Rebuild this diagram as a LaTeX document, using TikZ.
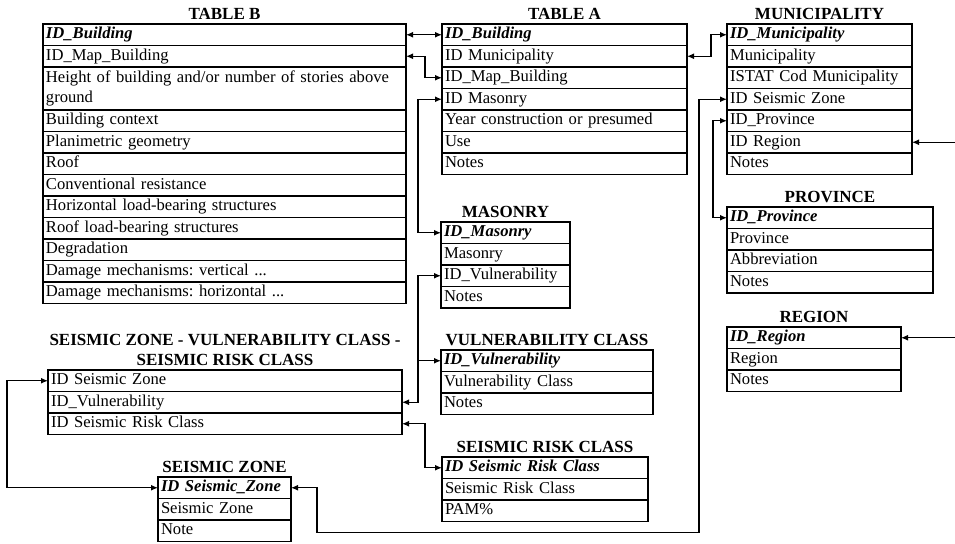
\documentclass[tikz,border=0pt]{standalone}
\usepackage{fontspec}
\setmainfont{Liberation Serif}
\usetikzlibrary{arrows.meta, positioning, calc}
\newcommand{\pk}[1]{\textbf{\textit{#1}}}
\frenchspacing

\begin{document}
\begin{tikzpicture}[x=0.5pt, y=-0.5pt, line width=0.65pt,
    >={Latex[length=3.5pt,width=3pt]},
    cellbox/.style={draw, text width=#1, align=left, minimum height=10.75pt,
      inner xsep=1.5pt, inner ysep=0pt, outer sep=0pt, font=\fontsize{8.3}{10}\selectfont},
    cell/.style={cellbox=#1, text height=6.3pt, text depth=2.1pt},
    title/.style={font=\fontsize{8.5}{10}\selectfont\bfseries, inner sep=1pt, align=center}]
  \useasboundingbox (0,0) rectangle (955,543);

  % table B
  \node[cell=178.5pt, anchor=north west] (B1) at (43,24) {\pk{ID\_Building}};
  \node[cell=178.5pt, below=0pt of B1] (B2) {ID\_Map\_Building};
  \node[cellbox=178.5pt, minimum height=21.5pt, below=0pt of B2] (B3) {Height of building and/or number of stories above\\ground};
  \foreach \n/\p/\t in {B4/B3/Building context, B5/B4/Planimetric geometry, B6/B5/Roof,
      B7/B6/Conventional resistance, B8/B7/Horizontal load-bearing structures,
      B9/B8/Roof load-bearing structures, B10/B9/Degradation}
    \node[cell=178.5pt, below=0pt of \p] (\n) {\t};
  \node[cell=178.5pt, below=0pt of B10] (B11) {Damage mechanisms: vertical ...};
  \node[cell=178.5pt, below=0pt of B11] (B12) {Damage mechanisms: horizontal ...};
  \node[title, above=1pt of B1] (tB) {TABLE B};

  % table A
  \node[cell=119.5pt, anchor=north west] (A1) at (442,24) {\pk{ID\_Building}};
  \foreach \n/\p/\t in {A2/A1/ID Municipality, A3/A2/ID\_Map\_Building, A4/A3/ID Masonry,
      A5/A4/Year construction or presumed, A6/A5/Use, A7/A6/Notes}
    \node[cell=119.5pt, below=0pt of \p] (\n) {\t};
  \node[title, above=1pt of A1] (tA) {TABLE A};

  % municipality
  \node[cell=89.5pt, anchor=north west] (M1) at (727,24) {\pk{ID\_Municipality}};
  \foreach \n/\p/\t in {M2/M1/Municipality, M3/M2/ISTAT Cod Municipality, M4/M3/ID Seismic Zone,
      M5/M4/ID\_Province, M6/M5/ID Region, M7/M6/Notes}
    \node[cell=89.5pt, below=0pt of \p] (\n) {\t};
  \node[title, above=1pt of M1] (tM) {MUNICIPALITY};

  % province
  \node[cell=100pt, anchor=north west] (P1) at (727,207) {\pk{ID\_Province}};
  \foreach \n/\p/\t in {P2/P1/Province, P3/P2/Abbreviation, P4/P3/Notes}
    \node[cell=100pt, below=0pt of \p] (\n) {\t};
  \node[title, above=1pt of P1] (tP) {PROVINCE};

  % region
  \node[cell=84pt, anchor=north west] (R1) at (727,327) {\pk{ID\_Region}};
  \foreach \n/\p/\t in {R2/R1/Region, R3/R2/Notes}
    \node[cell=84pt, below=0pt of \p] (\n) {\t};
  \node[title, above=1pt of R1] (tR) {REGION};

  % masonry
  \node[cell=61.5pt, anchor=north west] (Ma1) at (441,222) {\pk{ID\_Masonry}};
  \foreach \n/\p/\t in {Ma2/Ma1/Masonry, Ma3/Ma2/ID\_Vulnerability, Ma4/Ma3/Notes}
    \node[cell=61.5pt, below=0pt of \p] (\n) {\t};
  \node[title, above=1pt of Ma1] (tMa) {MASONRY};

  % vulnerability class
  \node[cell=103pt, anchor=north west] (V1) at (441,350) {\pk{ID\_Vulnerability}};
  \foreach \n/\p/\t in {V2/V1/Vulnerability Class, V3/V2/Notes}
    \node[cell=103pt, below=0pt of \p] (\n) {\t};
  \node[title, above=1pt of V1] (tV) {VULNERABILITY CLASS};

  % seismic zone - vulnerability class - seismic risk class
  \node[cell=174pt, anchor=north west] (Z1) at (48,370) {ID Seismic Zone};
  \foreach \n/\p/\t in {Z2/Z1/ID\_Vulnerability, Z3/Z2/ID Seismic Risk Class}
    \node[cell=174pt, below=0pt of \p] (\n) {\t};
  \node[title, above=1pt of Z1] (tZ) {SEISMIC ZONE - VULNERABILITY CLASS -\\SEISMIC RISK CLASS};

  % seismic zone
  \node[cell=63.5pt, anchor=north west] (SZ1) at (158,477) {\pk{ID Seismic\_Zone}};
  \foreach \n/\p/\t in {SZ2/SZ1/Seismic Zone, SZ3/SZ2/Note}
    \node[cell=63.5pt, below=0pt of \p] (\n) {\t};
  \node[title, above=1pt of SZ1] (tSZ) {SEISMIC ZONE};

  % seismic risk class
  \node[cell=100pt, anchor=north west] (S1) at (442,457) {\pk{ID Seismic Risk Class}};
  \foreach \n/\p/\t in {S2/S1/Seismic Risk Class, S3/S2/PAM\%}
    \node[cell=100pt, below=0pt of \p] (\n) {\t};
  \node[title, above=1pt of S1] (tS) {SEISMIC RISK CLASS};

  % links
  \draw[<->] (B1.east) -- (A1.west);
  \draw[<->] (B2.east) -- ++(19,0) |- (A3.west);
  \draw[<->] (A4.west) -- ++(-24,0) |- (Ma1.west);
  \draw[<->] (A2.east) -- ++(24,0) |- (M1.west);
  \draw[<->] (M4.west) -- ++(-28,0) |- ($(SZ1.east)+(26,45)$) |- (SZ1.east);
  \draw[<->] (M5.west) -- ++(-14,0) |- (P1.west);
  \draw[<-] (M6.east) -- ++(43,0);
  \draw[<-] (R1.east) -- ++(54,0);
  \draw[<->] (Ma3.west) -- ++(-23,0) |- (Z2.east);
  \draw[->] ($(Ma3.west)+(-23,0)$) |- (V1.west);
  \draw[<->] (Z3.east) -- ++(23,0) |- (S1.west);
  \draw[<->] (Z1.west) -- ++(-41,0) |- (SZ1.west);
\end{tikzpicture}
\end{document}
